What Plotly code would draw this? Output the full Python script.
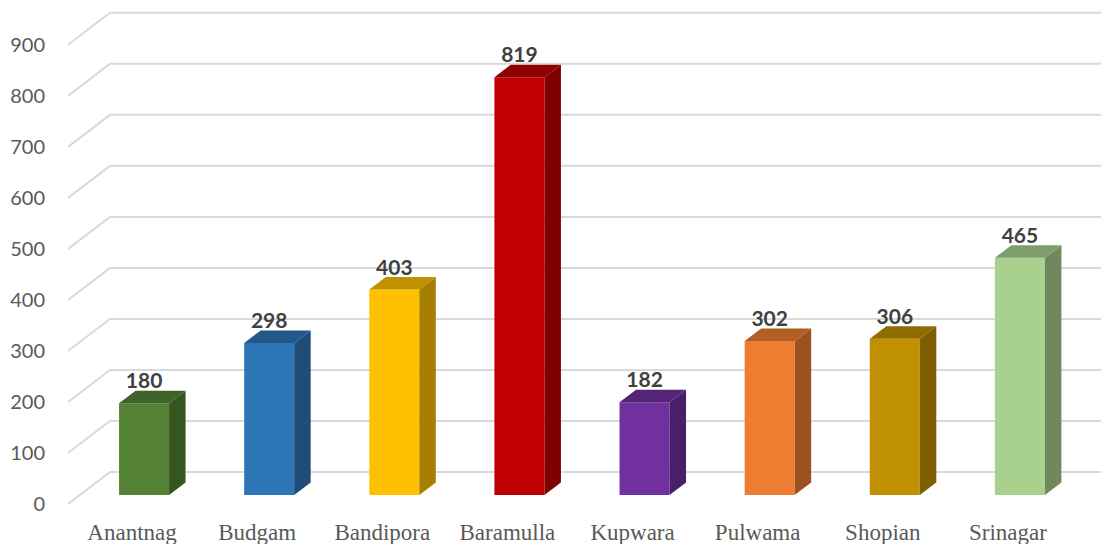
import plotly.graph_objects as go

categories = ["Anantnag", "Budgam", "Bandipora", "Baramulla", "Kupwara", "Pulwama", "Shopian", "Srinagar"]
values = [180, 298, 403, 819, 182, 302, 306, 465]
front_colors = ["#548235", "#2E75B6", "#FFC000", "#C00000", "#7030A0", "#ED7D31", "#BF9000", "#A9D18E"]
top_colors = ["#3F6228", "#23588A", "#BF9000", "#900000", "#542478", "#B25E25", "#8F6C00", "#7F9D6B"]
side_colors = ["#37561F", "#1F4D78", "#A67E00", "#7E0000", "#491F69", "#9B5220", "#7D5E00", "#6E895D"]
y_ticks = list(range(0, 1000, 100))

# Pseudo-3D geometry, in axis units
PX_X = 125.125
PX_Y = 0.51
BAR_W = 50 / PX_X
BAR_SHIFT = 12 / PX_X
BAR_DX = 16.5 / PX_X
BAR_DY = 12.5 / PX_Y
BASE = 9 / PX_Y
WALL_DX = 42 / PX_X
WALL_DY = 32 / PX_Y
LABEL_DROP = 3 / PX_Y
X_MIN = -0.5 - 1.5 / PX_X
X_MAX = 7.744
Y_MAX = 980

idx = list(range(len(categories)))
fig = go.Figure()

fig.add_trace(go.Bar(
    x=idx, y=values, base=BASE, width=BAR_W, offset=BAR_SHIFT - BAR_W / 2,
    marker=dict(color=front_colors, line=dict(width=0)), hoverinfo="x+y",
))

for i, v, tc, sc in zip(idx, values, top_colors, side_colors):
    x0 = i + BAR_SHIFT - BAR_W / 2
    x1 = x0 + BAR_W
    top = BASE + v
    fig.add_trace(go.Scatter(
        x=[x1, x1 + BAR_DX, x1 + BAR_DX, x1, x1],
        y=[BASE, BASE + BAR_DY, top + BAR_DY, top, BASE],
        mode="lines", fill="toself", fillcolor=sc, line=dict(width=0, color=sc), hoverinfo="skip",
    ))
    fig.add_trace(go.Scatter(
        x=[x0, x1, x1 + BAR_DX, x0 + BAR_DX, x0],
        y=[top, top, top + BAR_DY, top + BAR_DY, top],
        mode="lines", fill="toself", fillcolor=tc, line=dict(width=0, color=tc), hoverinfo="skip",
    ))

fig.add_trace(go.Scatter(
    x=[i + BAR_SHIFT for i in idx],
    y=[BASE + v + BAR_DY - LABEL_DROP for v in values],
    text=[str(v) for v in values], mode="text", textposition="top center",
    textfont=dict(family="Lato", size=21, color="#404040", weight="bold"), hoverinfo="skip",
))

shapes = []
grid_line = dict(color="#D9D9D9", width=2)
for t in y_ticks:
    shapes.append(dict(type="line", xref="x", yref="y", layer="below", line=grid_line,
                       x0=X_MIN, y0=t, x1=X_MIN + WALL_DX, y1=t + WALL_DY))
    shapes.append(dict(type="line", xref="x", yref="y", layer="below", line=grid_line,
                       x0=X_MIN + WALL_DX, y0=t + WALL_DY, x1=X_MAX, y1=t + WALL_DY))

fig.update_layout(
    width=1101, height=544, showlegend=False, shapes=shapes,
    paper_bgcolor="white", plot_bgcolor="white",
    margin=dict(l=68, r=0, t=4.2, b=40),
    xaxis=dict(range=[X_MIN, X_MAX], tickmode="array", tickvals=idx, ticktext=categories,
               showgrid=False, zeroline=False, showline=False, ticks="",
               ticklabelstandoff=12,
               tickfont=dict(family="Liberation Serif", size=23, color="#595959")),
    yaxis=dict(range=[0, Y_MAX], tickmode="array", tickvals=y_ticks,
               showgrid=False, zeroline=False, showline=False, ticks="",
               ticklabelstandoff=22,
               tickfont=dict(family="Lato", size=20, color="#595959")),
)

fig.write_html("out.html", config={"displayModeBar": False},
               post_script="document.body.style.margin='0';document.body.style.overflow='hidden';")
